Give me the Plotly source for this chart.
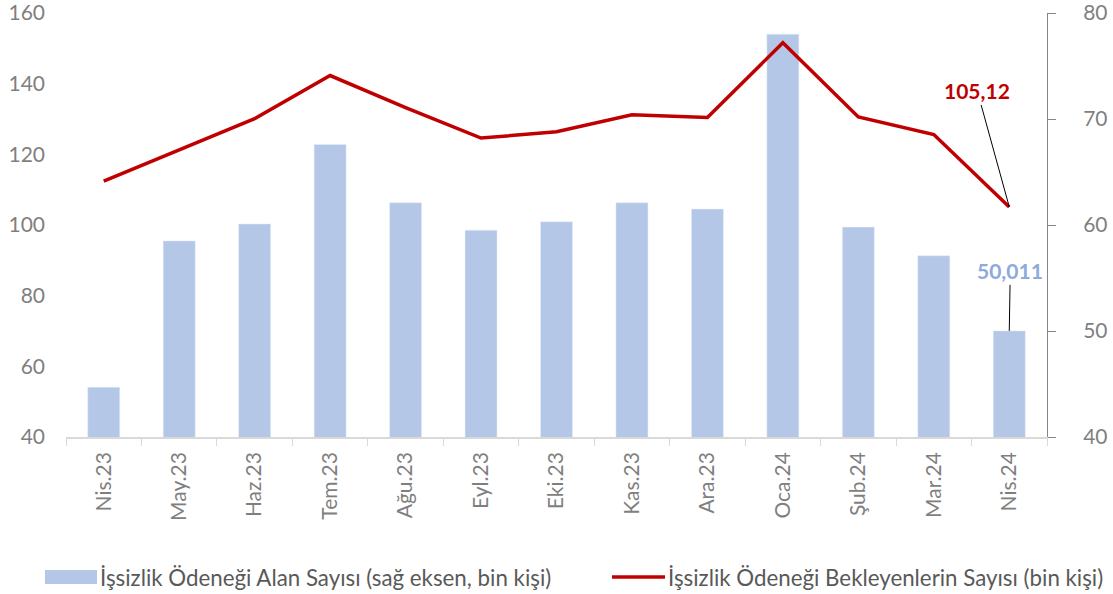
import plotly.graph_objects as go

months = ["Nis.23", "May.23", "Haz.23", "Tem.23", "Ağu.23", "Eyl.23", "Eki.23",
          "Kas.23", "Ara.23", "Oca.24", "Şub.24", "Mar.24", "Nis.24"]

# İşsizlik ödeneği alan sayısı (sağ eksen, bin kişi)
alan = [44.7, 58.5, 60.1, 67.6, 62.1, 59.5, 60.3, 62.1, 61.5, 78.0, 59.8, 57.1, 50.011]

# İşsizlik ödeneği bekleyenlerin sayısı (bin kişi)
bekleyen = [112.4, 121.3, 130.1, 142.3, 133.2, 124.6, 126.4, 131.2, 130.4, 151.6, 130.6, 125.6, 105.12]

alan_name = "İşsizlik Ödeneği Alan Sayısı (sağ eksen, bin kişi)"
bekleyen_name = "İşsizlik Ödeneği Bekleyenlerin Sayısı (bin kişi)"

BAR_COLOR = "#B4C7E7"
LINE_COLOR = "#C00000"
GREY = "#7F7F7F"
FONT = "Lato"

W, H = 1113, 594
L, R, T, B = 66, 66, 13, 157
plot_w = W - L - R
plot_h = H - T - B


def px_x(px):
    return (px - L) / plot_w


def px_y(py):
    return (H - B - py) / plot_h


fig = go.Figure()
# bars on the right-hand axis, line on the left-hand one (drawn on top)
fig.add_trace(go.Bar(x=months, y=alan, name=alan_name, marker_color=BAR_COLOR,
                     yaxis="y", width=0.424))
fig.add_trace(go.Scatter(x=months, y=bekleyen, name=bekleyen_name, mode="lines",
                         line=dict(color=LINE_COLOR, width=3.5), yaxis="y2"))

fig.update_layout(
    width=W, height=H,
    margin=dict(l=L, r=R, t=T, b=B),
    plot_bgcolor="white", paper_bgcolor="white",
    showlegend=False,
    font=dict(family=FONT, color=GREY),
    xaxis=dict(
        tickangle=-90, tickfont=dict(size=21, color=GREY),
        showline=True, linecolor="#D9D9D9", linewidth=1.5,
        ticks="outside", tickson="boundaries", ticklen=7, tickcolor="#D9D9D9",
        ticklabelstandoff=5, showgrid=False, automargin=False,
    ),
    yaxis=dict(
        range=[40, 80], dtick=10, side="right",
        showgrid=False, zeroline=False, showline=True, linecolor="#868686",
        linewidth=1, ticks="outside", ticklen=8, tickcolor="#868686",
        tickfont=dict(size=21, color=GREY), ticklabelstandoff=23,
        ticklabeloverflow="allow", automargin=False,
    ),
    yaxis2=dict(
        range=[40, 160], dtick=20, overlaying="y", side="left",
        showgrid=False, zeroline=False, showline=False,
        tickfont=dict(size=21, color=GREY), ticklabelstandoff=20,
        ticklabeloverflow="allow", automargin=False,
    ),
)

# data labels with leader lines
fig.add_annotation(x=months[-1], y=bekleyen[-1], xref="x", yref="y2",
                   text="<b>105,12</b>", showarrow=True, arrowhead=0,
                   arrowwidth=1, arrowcolor="black", ax=-32, ay=-116,
                   font=dict(size=21, color=LINE_COLOR))
fig.add_annotation(x=months[-1], y=alan[-1], xref="x", yref="y",
                   text="<b>50,011</b>", showarrow=True, arrowhead=0,
                   arrowwidth=1, arrowcolor="black", ax=1, ay=-60,
                   font=dict(size=21, color="#8EA9DB"))

# legend drawn by hand to get the wide swatches
fig.add_shape(type="rect", xref="paper", yref="paper",
              x0=px_x(45), x1=px_x(97), y0=px_y(584), y1=px_y(570),
              fillcolor=BAR_COLOR, line=dict(width=0))
fig.add_shape(type="line", xref="paper", yref="paper",
              x0=px_x(612), x1=px_x(665), y0=px_y(577), y1=px_y(577),
              line=dict(color=LINE_COLOR, width=3.5))
fig.add_annotation(x=px_x(98), y=px_y(577), xref="paper", yref="paper",
                   text=alan_name, showarrow=False, xanchor="left", yanchor="middle",
                   font=dict(size=22.3, color="#595959"))
fig.add_annotation(x=px_x(666), y=px_y(577), xref="paper", yref="paper",
                   text=bekleyen_name, showarrow=False, xanchor="left", yanchor="middle",
                   font=dict(size=22.3, color="#595959"))

fig.write_html("out.html", config={"displayModeBar": False},
               post_script="document.body.style.margin = '0px';")
